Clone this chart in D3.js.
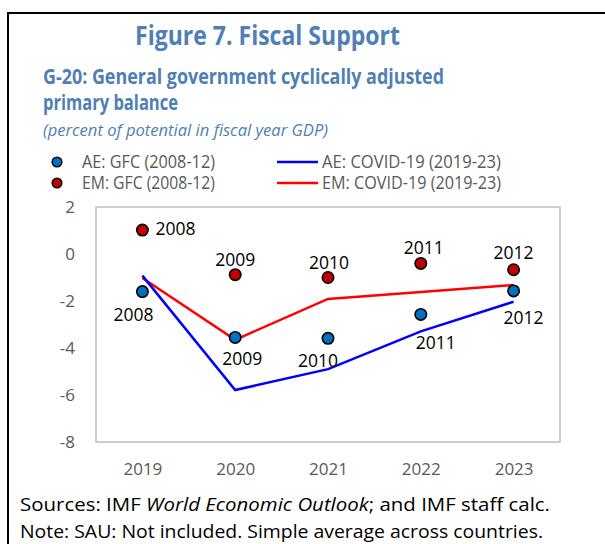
<!DOCTYPE html>
<html>
<head>
<meta charset="utf-8">
<script src="https://cdn.jsdelivr.net/npm/d3@7"></script>
<style>
  body { margin: 0; background: #fff; }
  svg { display: block; font-family: "Open Sans", "Noto Sans", sans-serif; }
</style>
</head>
<body>
<div id="chart"></div>
<script>
// categories on the x axis (COVID years) and the matching GFC years
const years = ["2019", "2020", "2021", "2022", "2023"];
const gfcYears = ["2008", "2009", "2010", "2011", "2012"];

// series values, percent of potential GDP
const aeGfc = [-1.6, -3.55, -3.59, -2.57, -1.57];
const emGfc = [1.02, -0.88, -1.0, -0.4, -0.67];
const aeCovid = [-0.92, -5.79, -4.9, -3.29, -2.03];
const emCovid = [-1.02, -3.65, -1.91, -1.62, -1.32];

const yTicks = [2, 0, -2, -4, -6, -8];

const W = 605, H = 544;
const margin = {top: 207, right: 45, bottom: 102, left: 96};
const titleBlue = "#4E80B5";
const gray = "#595959";

let svg = d3.select("#chart").append("svg")
    .attr("width", W)
    .attr("height", H);

// outer frame (only top and left visible)
svg.append("path")
    .attr("d", "M8,544 V13 H605")
    .attr("fill", "none")
    .attr("stroke", "#000")
    .attr("stroke-width", 2);

// helper: text squeezed to the width it has in the picture
function addText(x0, y0, size, str, width) {
    let t = svg.append("text")
        .attr("x", x0).attr("y", y0)
        .attr("font-size", size)
        .text(str);
    if (width) t.attr("textLength", width).attr("lengthAdjust", "spacingAndGlyphs");
    return t;
}

// Titles
addText(135, 45, 26.5, "Figure 7. Fiscal Support", 265)
    .attr("font-weight", "bold").attr("fill", titleBlue);
addText(43, 84, 21, "G-20: General government cyclically adjusted", 401)
    .attr("font-weight", "bold").attr("fill", titleBlue);
addText(43, 110, 21, "primary balance", 135)
    .attr("font-weight", "bold").attr("fill", titleBlue);
addText(43, 136, 17, "(percent of potential in fiscal year GDP)", 285)
    .attr("font-style", "italic").attr("fill", titleBlue);

// scales
let x = d3.scalePoint()
    .domain(years)
    .range([margin.left, W - margin.right])
    .padding(0.5);
let y = d3.scaleLinear()
    .domain([-8, 2])
    .range([H - margin.bottom, margin.top]);

// plot frame
svg.append("rect")
    .attr("x", margin.left).attr("y", margin.top)
    .attr("width", W - margin.right - margin.left)
    .attr("height", H - margin.bottom - margin.top)
    .attr("fill", "none")
    .attr("stroke", "#BFBFBF")
    .attr("stroke-width", 1.5);

// axes
let yAxis = svg.append("g")
    .attr("transform", "translate(" + margin.left + ",0)")
    .call(d3.axisLeft(y).tickValues(yTicks).tickSize(0).tickPadding(21)
        .tickFormat(d => d < 0 ? "-" + Math.abs(d) : d));
yAxis.select(".domain").remove();
yAxis.selectAll("text")
    .attr("font-size", 17).attr("fill", gray)
    .attr("font-family", "Open Sans, sans-serif");

let xAxis = svg.append("g")
    .attr("transform", "translate(0," + (H - margin.bottom) + ")")
    .call(d3.axisBottom(x).tickSize(0).tickPadding(21));
xAxis.select(".domain").remove();
xAxis.selectAll("text")
    .attr("font-size", 17).attr("fill", gray)
    .attr("font-family", "Open Sans, sans-serif");

// lines
let line = d3.line()
    .x((d, i) => x(years[i]))
    .y(d => y(d));

svg.append("path")
    .datum(emCovid)
    .attr("d", line)
    .attr("fill", "none")
    .attr("stroke", "#FF0000")
    .attr("stroke-width", 2.5);
svg.append("path")
    .datum(aeCovid)
    .attr("d", line)
    .attr("fill", "none")
    .attr("stroke", "#0000FF")
    .attr("stroke-width", 2.5);

// dots
svg.append("g").selectAll("circle")
    .data(emGfc).join("circle")
    .attr("cx", (d, i) => x(years[i]))
    .attr("cy", d => y(d))
    .attr("r", 5.7)
    .attr("fill", "#C00000")
    .attr("stroke", "#000").attr("stroke-width", 1.6);
svg.append("g").selectAll("circle")
    .data(aeGfc).join("circle")
    .attr("cx", (d, i) => x(years[i]))
    .attr("cy", d => y(d))
    .attr("r", 5.7)
    .attr("fill", "#0070C0")
    .attr("stroke", "#000").attr("stroke-width", 1.6);

// point labels: [dx, dy, anchor] from each dot
const emOff = [[13, 5, "start"], [0, -9, "middle"], [1, -9, "middle"], [3, -9, "middle"], [0, -11, "middle"]];
const aeOff = [[-9, 29, "middle"], [7, 27.5, "middle"], [-10, 29, "middle"], [15, 35, "middle"], [10, 33, "middle"]];

svg.append("g").selectAll("text")
    .data(emGfc).join("text")
    .attr("x", (d, i) => x(years[i]) + emOff[i][0])
    .attr("y", d => y(d))
    .attr("dy", (d, i) => emOff[i][1])
    .attr("text-anchor", (d, i) => emOff[i][2])
    .attr("font-size", 17.5).attr("fill", "#000")
    .text((d, i) => gfcYears[i]);
svg.append("g").selectAll("text")
    .data(aeGfc).join("text")
    .attr("x", (d, i) => x(years[i]) + aeOff[i][0])
    .attr("y", d => y(d))
    .attr("dy", (d, i) => aeOff[i][1])
    .attr("text-anchor", (d, i) => aeOff[i][2])
    .attr("font-size", 17.5).attr("fill", "#000")
    .text((d, i) => gfcYears[i]);

// legend
const legendItems = [
    {label: "AE: GFC (2008-12)", type: "dot", color: "#0070C0", row: 0},
    {label: "EM: GFC (2008-12)", type: "dot", color: "#C00000", row: 1},
    {label: "AE: COVID-19 (2019-23)", type: "line", color: "#0000FF", row: 0},
    {label: "EM: COVID-19 (2019-23)", type: "line", color: "#FF0000", row: 1}
];
let legend = svg.append("g");
legendItems.forEach(it => {
    let ly = 162 + it.row * 21;
    if (it.type === "dot") {
        legend.append("circle")
            .attr("cx", 57).attr("cy", ly)
            .attr("r", 4.8)
            .attr("fill", it.color)
            .attr("stroke", "#000").attr("stroke-width", 1.5);
        legend.append("text")
            .attr("x", 82).attr("y", ly + 6)
            .attr("font-size", 18).attr("fill", gray)
            .attr("textLength", 133).attr("lengthAdjust", "spacingAndGlyphs")
            .text(it.label);
    } else {
        legend.append("line")
            .attr("x1", 277).attr("x2", 318)
            .attr("y1", ly).attr("y2", ly)
            .attr("stroke", it.color).attr("stroke-width", 2.5);
        legend.append("text")
            .attr("x", 322).attr("y", ly + 6)
            .attr("font-size", 18).attr("fill", gray)
            .attr("textLength", 179).attr("lengthAdjust", "spacingAndGlyphs")
            .text(it.label);
    }
});

// footnotes
let src = svg.append("text")
    .attr("x", 20).attr("y", 511)
    .attr("font-size", 19).attr("fill", "#000")
    .attr("textLength", 530).attr("lengthAdjust", "spacingAndGlyphs");
src.append("tspan").text("Sources: IMF ");
src.append("tspan").attr("font-style", "italic").text("World Economic Outlook");
src.append("tspan").text("; and IMF staff calc.");

addText(20, 538, 19, "Note: SAU: Not included. Simple average across countries.", 523)
    .attr("fill", "#000");
</script>
</body>
</html>
